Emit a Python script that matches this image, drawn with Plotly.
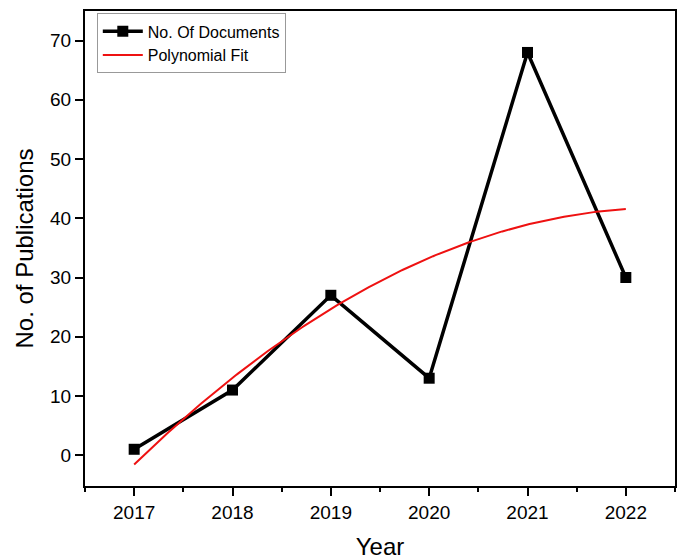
import numpy as np
import plotly.graph_objects as go

# Publications per year
years = [2017, 2018, 2019, 2020, 2021, 2022]
documents = [1, 11, 27, 13, 68, 30]

# Second-order polynomial fit of the yearly counts
coef = np.polyfit(np.array(years) - years[0], documents, 2)
fit_x = np.linspace(years[0], years[-1], 200)
fit_y = np.polyval(coef, fit_x - years[0])

font_family = "Liberation Sans, Arial, sans-serif"

fig = go.Figure()
fig.add_trace(go.Scatter(
    x=years, y=documents, mode="lines+markers", name="No. Of Documents",
    line=dict(color="black", width=3.5),
    marker=dict(symbol="square", size=11, color="black"),
))
fig.add_trace(go.Scatter(
    x=fit_x, y=fit_y, mode="lines", name="Polynomial Fit",
    line=dict(color="#ee1111", width=2),
))

fig.update_layout(
    width=681, height=560,
    margin=dict(l=85, r=4, t=11, b=71),
    paper_bgcolor="white", plot_bgcolor="white",
    font=dict(family=font_family, color="black", size=17),
    showlegend=True,
    legend=dict(
        x=0.02, y=0.995, xanchor="left", yanchor="top",
        bordercolor="#999999", borderwidth=1, bgcolor="white",
        font=dict(size=16), tracegroupgap=0, itemwidth=40,
    ),
)
fig.update_xaxes(
    range=[2016.5, 2022.5], tickvals=years, ticktext=[str(y) for y in years],
    showline=True, linecolor="black", linewidth=2, mirror=True,
    ticks="outside", ticklen=8, tickwidth=2, tickcolor="black",
    minor=dict(tickvals=[2016.5, 2017.5, 2018.5, 2019.5, 2020.5, 2021.5, 2022.5],
               ticks="outside", ticklen=4, tickwidth=2, tickcolor="black"),
    showgrid=False, zeroline=False,
    tickfont=dict(size=19),
    title=dict(text="Year", font=dict(size=24), standoff=16),
)
fig.update_yaxes(
    range=[-5.2, 75], tickvals=[0, 10, 20, 30, 40, 50, 60, 70],
    showline=True, linecolor="black", linewidth=2, mirror=True,
    ticks="outside", ticklen=8, tickwidth=2, tickcolor="black",
    showgrid=False, zeroline=False,
    tickfont=dict(size=19),
    title=dict(text="No. of Publications", font=dict(size=24), standoff=10),
)

fig.write_html("out.html")
